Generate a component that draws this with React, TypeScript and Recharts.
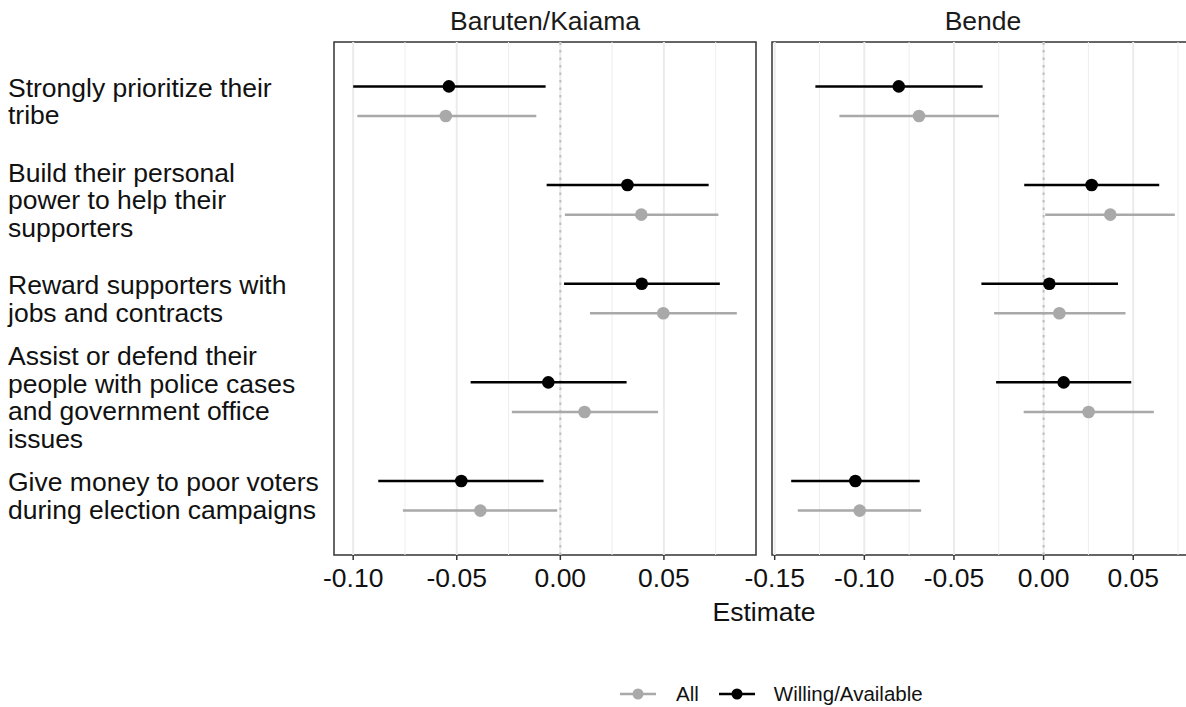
import React from "react";
import {
  ScatterChart,
  Scatter,
  XAxis,
  YAxis,
  ErrorBar,
  ReferenceLine,
  ReferenceArea,
} from "recharts";

const categories = [
  "Strongly prioritize their\ntribe",
  "Build their personal\npower to help their\nsupporters",
  "Reward supporters with\njobs and contracts",
  "Assist or defend their\npeople with police cases\nand government office\nissues",
  "Give money to poor voters\nduring election campaigns",
];

// Baruten/Kaiama
const barutenWillingEst = [-0.0538, 0.0324, 0.0393, -0.0058, -0.0478];
const barutenWillingLo = [-0.1, -0.0066, 0.0018, -0.0433, -0.0879];
const barutenWillingHi = [-0.0071, 0.0716, 0.077, 0.032, -0.0081];
const barutenAllEst = [-0.0553, 0.0391, 0.0497, 0.0117, -0.0386];
const barutenAllLo = [-0.098, 0.0022, 0.0143, -0.0234, -0.076];
const barutenAllHi = [-0.0116, 0.0763, 0.0852, 0.0472, -0.0015];

// Bende
const bendeWillingEst = [-0.0808, 0.0268, 0.0032, 0.0112, -0.105];
const bendeWillingLo = [-0.1273, -0.0108, -0.0347, -0.0265, -0.1408];
const bendeWillingHi = [-0.034, 0.0645, 0.0415, 0.0489, -0.0691];
const bendeAllEst = [-0.0695, 0.0372, 0.0088, 0.0251, -0.1026];
const bendeAllLo = [-0.1139, 0.0009, -0.0276, -0.0111, -0.1371];
const bendeAllHi = [-0.0249, 0.0732, 0.0457, 0.0615, -0.0683];

const barutenTicks = [-0.1, -0.05, 0, 0.05];
const barutenMinor = [-0.075, -0.025, 0.025, 0.075];
const bendeTicks = [-0.15, -0.1, -0.05, 0, 0.05];
const bendeMinor = [-0.125, -0.075, -0.025, 0.025, 0.075];

const FONT = "'Liberation Sans', Arial, sans-serif";
const GREY = "#A9A9A9";
const TXT = "#111";
const FS = 26.5;
const Y_DOMAIN: [number, number] = [0.4, 5.6];
const DODGE = 0.15;

function buildSeries(est: number[], lo: number[], hi: number[], shift: number) {
  return est.map((e, i) => ({
    x: e,
    y: i + 1 + shift,
    err: [e - lo[i], hi[i] - e],
  }));
}

function expand(values: number[]): [number, number] {
  const min = Math.min(...values);
  const max = Math.max(...values);
  const pad = (max - min) * 0.05;
  return [min - pad, max + pad];
}

const YTick = (props: any) => {
  const { y, payload } = props;
  const lines = categories[payload.value - 1].split("\n");
  const lh = 27.6;
  return (
    <text x={8} y={y} textAnchor="start" fontSize={FS} fill={TXT} fontFamily={FONT}>
      {lines.map((l, i) => (
        <tspan key={i} x={8} dy={i === 0 ? -((lines.length - 1) / 2) * lh + FS * 0.35 : lh}>
          {l}
        </tspan>
      ))}
    </text>
  );
};

const dot = (color: string) => (p: any) => <circle cx={p.cx} cy={p.cy} r={6.3} fill={color} />;

interface PanelProps {
  willing: ReturnType<typeof buildSeries>;
  all: ReturnType<typeof buildSeries>;
  domain: [number, number];
  ticks: number[];
  minor: number[];
  width: number;
  showY: boolean;
  leftPad: number;
}

function Panel({ willing, all, domain, ticks, minor, width, showY, leftPad }: PanelProps) {
  return (
    <ScatterChart
      width={width}
      height={707}
      margin={{ top: 42, right: 4, bottom: 92, left: leftPad }}
    >
      <XAxis
        type="number"
        dataKey="x"
        domain={domain}
        allowDataOverflow
        ticks={ticks}
        tickFormatter={(v: number) => v.toFixed(2)}
        axisLine={false}
        tickLine={{ stroke: "#333", strokeWidth: 1.5 }}
        tickSize={5}
        tickMargin={8}
        height={60}
        interval={0}
        tick={{ fontSize: FS, fill: TXT, fontFamily: FONT }}
      />
      <YAxis
        type="number"
        dataKey="y"
        domain={Y_DOMAIN}
        allowDataOverflow
        reversed
        ticks={[1, 2, 3, 4, 5]}
        interval={0}
        width={showY ? 334 : 0}
        hide={!showY}
        axisLine={false}
        tickLine={false}
        tick={<YTick />}
      />
      {minor.map((v) => (
        <ReferenceLine key={"m" + v} x={v} stroke="#EEEEEE" strokeWidth={1} />
      ))}
      {ticks.map((v) => (
        <ReferenceLine key={"M" + v} x={v} stroke="#EBEBEB" strokeWidth={2} />
      ))}
      <ReferenceLine x={0} stroke="#BEBEBE" strokeWidth={2} strokeDasharray="2.5 5" />
      <ReferenceArea
        x1={domain[0]}
        x2={domain[1]}
        y1={Y_DOMAIN[0]}
        y2={Y_DOMAIN[1]}
        fill="none"
        stroke="#333"
        strokeWidth={1.5}
        ifOverflow="visible"
      />
      <Scatter data={all} shape={dot(GREY)} isAnimationActive={false}>
        <ErrorBar dataKey="err" direction="x" width={0} stroke={GREY} strokeWidth={2.5} isAnimationActive={false} />
      </Scatter>
      <Scatter data={willing} shape={dot("#000")} isAnimationActive={false}>
        <ErrorBar dataKey="err" direction="x" width={0} stroke="#000" strokeWidth={2.5} isAnimationActive={false} />
      </Scatter>
    </ScatterChart>
  );
}

export default function App() {
  const bW = buildSeries(barutenWillingEst, barutenWillingLo, barutenWillingHi, -DODGE);
  const bA = buildSeries(barutenAllEst, barutenAllLo, barutenAllHi, DODGE);
  const eW = buildSeries(bendeWillingEst, bendeWillingLo, bendeWillingHi, -DODGE);
  const eA = buildSeries(bendeAllEst, bendeAllLo, bendeAllHi, DODGE);
  const bDomain = expand([...barutenWillingLo, ...barutenWillingHi, ...barutenAllLo, ...barutenAllHi]);
  const eDomain = expand([...bendeWillingLo, ...bendeWillingHi, ...bendeAllLo, ...bendeAllHi]);

  return (
    <div
      style={{
        position: "fixed",
        left: 0,
        top: 0,
        width: 1186,
        height: 707,
        overflow: "hidden",
        background: "#fff",
        fontFamily: FONT,
      }}
    >
      <div style={{ position: "absolute", left: 0, top: 0 }}>
        <Panel willing={bW} all={bA} domain={bDomain} ticks={barutenTicks} minor={barutenMinor} width={760} showY leftPad={0} />
      </div>
      <div style={{ position: "absolute", left: 732, top: 0 }}>
        <Panel willing={eW} all={eA} domain={eDomain} ticks={bendeTicks} minor={bendeMinor} width={466} showY={false} leftPad={40} />
      </div>

      <div style={{ position: "absolute", left: 334, top: 7.6, width: 422, textAlign: "center", fontSize: FS, lineHeight: `${FS}px`, color: "#1A1A1A" }}>
        Baruten/Kaiama
      </div>
      <div style={{ position: "absolute", left: 772, top: 7.6, width: 422, textAlign: "center", fontSize: FS, lineHeight: `${FS}px`, color: "#1A1A1A" }}>
        Bende
      </div>

      <div style={{ position: "absolute", left: 564, top: 599.3, width: 400, textAlign: "center", fontSize: FS, lineHeight: `${FS}px`, color: TXT }}>
        Estimate
      </div>

      <div style={{ position: "absolute", left: 620, top: 684, display: "flex", alignItems: "center", fontSize: 20.5, lineHeight: "20px", color: TXT }}>
        <svg width={36} height={20}>
          <line x1={0} x2={36} y1={10} y2={10} stroke={GREY} strokeWidth={2.5} />
          <circle cx={18} cy={10} r={5.5} fill={GREY} />
        </svg>
        <span style={{ marginLeft: 20 }}>All</span>
        <svg width={36} height={20} style={{ marginLeft: 20 }}>
          <line x1={0} x2={36} y1={10} y2={10} stroke="#000" strokeWidth={2.5} />
          <circle cx={18} cy={10} r={5.5} fill="#000" />
        </svg>
        <span style={{ marginLeft: 19 }}>Willing/Available</span>
      </div>
    </div>
  );
}
